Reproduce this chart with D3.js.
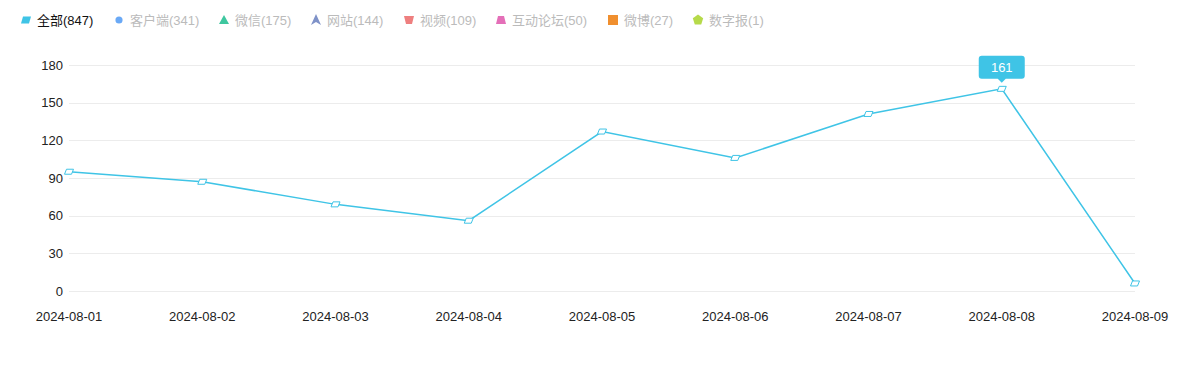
<!DOCTYPE html>
<html>
<head>
<meta charset="utf-8">
<script src="https://cdn.jsdelivr.net/npm/d3@7"></script>
<style>
  body { margin: 0; background: #fff; }
  svg { display: block; font-family: "Liberation Sans", Arial, "Noto Sans CJK SC", sans-serif; }
</style>
</head>
<body>
<div id="chart"></div>
<script>
// data
const dates = ['2024-08-01', '2024-08-02', '2024-08-03', '2024-08-04', '2024-08-05',
  '2024-08-06', '2024-08-07', '2024-08-08', '2024-08-09']
const totals = [95, 87, 69, 56, 127, 106, 141, 161, 6]
const legendNames = ['全部', '客户端', '微信', '网站', '视频', '互动论坛', '微博', '数字报']
const legendCounts = [847, 341, 175, 144, 109, 50, 27, 1]
const legendColors = ['#3fc4e6', '#6aa9f6', '#3ec79f', '#7f92c8', '#ee7f7f', '#e46fb8', '#f08f2e', '#b6da4a']
const yTicks = [0, 30, 60, 90, 120, 150, 180]

const width = 1200, height = 377
const margin = { top: 65, right: 65, bottom: 86, left: 69 }
const lineColor = '#3fc4e6'

const svg = d3.select('#chart').append('svg')
  .attr('width', width)
  .attr('height', height)

const x = d3.scalePoint()
  .domain(dates)
  .range([margin.left, width - margin.right])

const y = d3.scaleLinear()
  .domain([0, 180])
  .range([height - margin.bottom, margin.top])

// grid + y labels
const yAxis = svg.append('g')
yAxis.selectAll('line')
  .data(yTicks)
  .enter()
  .append('line')
  .attr('x1', margin.left)
  .attr('x2', width - margin.right)
  .attr('y1', d => Math.round(y(d)) + 0.5)
  .attr('y2', d => Math.round(y(d)) + 0.5)
  .attr('stroke', '#ececec')

yAxis.selectAll('text')
  .data(yTicks)
  .enter()
  .append('text')
  .attr('x', margin.left - 6)
  .attr('y', d => y(d))
  .attr('dy', '0.35em')
  .attr('text-anchor', 'end')
  .attr('font-size', 13)
  .attr('fill', '#222')
  .text(d => d)

// x labels
svg.append('g').selectAll('text')
  .data(dates)
  .enter()
  .append('text')
  .attr('x', d => x(d))
  .attr('y', height - margin.bottom + 30)
  .attr('text-anchor', 'middle')
  .attr('font-size', 13)
  .attr('fill', '#222')
  .text(d => d)

// line
const line = d3.line()
  .x((d, i) => x(dates[i]))
  .y(d => y(d))

svg.append('path')
  .datum(totals)
  .attr('d', line)
  .attr('fill', 'none')
  .attr('stroke', lineColor)
  .attr('stroke-width', 1.5)

// parallelogram markers
const para = (w, h) => `M${-w / 2 + 1},${-h / 2} L${w / 2 + 1},${-h / 2} L${w / 2 - 1},${h / 2} L${-w / 2 - 1},${h / 2} Z`

svg.append('g').selectAll('path')
  .data(totals)
  .enter()
  .append('path')
  .attr('transform', (d, i) => `translate(${x(dates[i])},${y(d)})`)
  .attr('d', para(7, 5))
  .attr('fill', '#fff')
  .attr('stroke', lineColor)
  .attr('stroke-width', 1)

// label on max point
const maxI = d3.maxIndex(totals)
const tipX = x(dates[maxI]), tipY = y(totals[maxI])
const tip = svg.append('g').attr('transform', `translate(${tipX},${tipY - 10})`)
tip.append('path')
  .attr('d', 'M-23,-20 Q-23,-23 -20,-23 L20,-23 Q23,-23 23,-20 L23,-3 Q23,0 20,0 L4,0 L0,4 L-4,0 L-20,0 Q-23,0 -23,-3 Z')
  .attr('fill', '#3fc4e6')
tip.append('text')
  .attr('y', -11.5)
  .attr('dy', '0.35em')
  .attr('text-anchor', 'middle')
  .attr('font-size', 13)
  .attr('fill', '#fff')
  .text(totals[maxI])

// legend
const legendX = [26, 119, 224, 316, 409, 501, 613, 698]
const symbols = [
  'M-3,-3.5 L5,-3.5 L3,3.5 L-5,3.5 Z',
  d3.symbol(d3.symbolCircle, 40)(),
  'M0,-5 L5,4 L-5,4 Z',
  'M0,-6 L5,5 L0,2 L-5,5 Z',
  'M-5,-4 L5,-4 L3,4 L-3,4 Z',
  'M-3,-4 L3,-4 L5,4 L-5,4 Z',
  'M-5,-5 L5,-5 L5,5 L-5,5 Z',
  'M0,-5.5 L5.2,-1.7 L3.2,4.5 L-3.2,4.5 L-5.2,-1.7 Z'
]

const legend = svg.append('g').selectAll('g')
  .data(legendNames)
  .enter()
  .append('g')
  .attr('transform', (d, i) => `translate(${legendX[i]},20)`)

legend.append('path')
  .attr('d', (d, i) => symbols[i])
  .attr('fill', (d, i) => legendColors[i])

legend.append('text')
  .attr('x', 11)
  .attr('dy', '0.35em')
  .attr('font-size', 13)
  .attr('fill', (d, i) => i === 0 ? '#111' : '#bbb')
  .text((d, i) => `${d}(${legendCounts[i]})`)
</script>
</body>
</html>
